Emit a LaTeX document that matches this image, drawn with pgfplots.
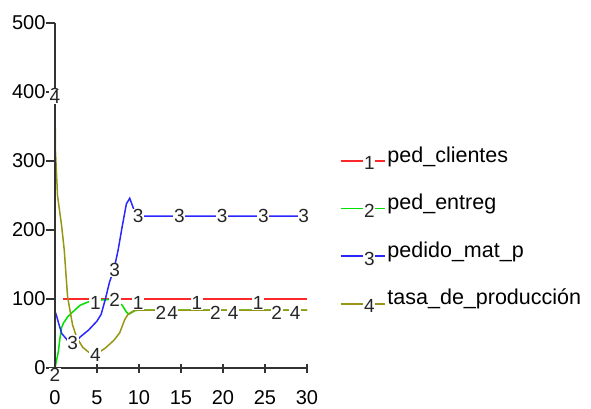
\documentclass[border=0pt]{standalone}
\usepackage{pgfplots}
\pgfplotsset{compat=1.18}
\usepackage{fontspec}
\setmainfont{Liberation Sans}
\definecolor{cred}{RGB}{255,40,40}
\definecolor{cgreen}{RGB}{0,225,0}
\definecolor{cblue}{RGB}{40,40,255}
\definecolor{colive}{RGB}{150,150,20}
\newcommand{\labfont}{\fontsize{19}{19}\selectfont}
\pgfplotsset{
  labstyle/.style={forget plot, only marks, mark=text, text mark={#1}, text mark as node=true,
    text mark style={font=\labfont, fill=white, inner sep=0.6pt, text=black!85}},
}
\begin{document}
\begin{tikzpicture}
\useasboundingbox (-55pt,-41pt) rectangle (536pt,368pt);
\begin{axis}[
  scale only axis, width=252pt, height=345pt,
  xmin=0, xmax=30, ymin=0, ymax=500,
  axis x line=bottom, axis y line=left, axis on top,
  axis line style={-, line width=1.6pt, black!80},
  xtick={0,5,...,30}, ytick={0,100,...,500},
  x tick style={line width=1.3pt, black!80}, y tick style={line width=1.3pt, black!80},
  xtick align=center, ytick align=outside,
  major tick length=9pt,
  tick label style={font=\fontsize{20}{20}\selectfont, /pgf/number format/assume math mode=true},
  xticklabel style={yshift=-15pt},
  yticklabel style={xshift=3pt},
  clip=false,
  legend style={draw=none, fill=none, at={(rel axis cs:1.13,0.648)}, anchor=north west,
    font=\fontsize{21.5}{21.5}\selectfont, row sep=20pt, inner sep=0pt},
  legend cell align=left,
]
% ped_clientes
\addplot[cred, line width=1.5pt, legend image code/.code={
    \draw[cred, line width=1.5pt] (0pt,-6pt) -- (44pt,-6pt);
    \node[fill=white, inner sep=0.6pt, font=\labfont, text=black!85] at (22pt,-9pt) {1};}]
 coordinates {(1,100)(5,100)(10,100)(15,100)(20,100)(25,100)(30,100)};
\addlegendentry{ped\_clientes}
% ped_entreg
\addplot[cgreen, line width=1.5pt, legend image code/.code={
    \draw[cgreen, line width=1.5pt] (0pt,-6pt) -- (44pt,-6pt);
    \node[fill=white, inner sep=0.6pt, font=\labfont, text=black!85] at (22pt,-9pt) {2};}]
 coordinates {(0,0)(0.2,12)(0.4,24)(0.6,44)(0.8,59)(1,65)(1.5,74)(2,80)(3,91)(4,96)(5,98)(6,99)(7,99)(8,91)(8.5,81)(8.8,78)(9.5,83)(10,84)(15,84)(20,84)(25,84)(30,84)};
\addlegendentry{ped\_entreg}
% pedido_mat_p
\addplot[cblue, line width=1.5pt, legend image code/.code={
    \draw[cblue, line width=1.5pt] (0pt,-6pt) -- (44pt,-6pt);
    \node[fill=white, inner sep=0.6pt, font=\labfont, text=black!85] at (22pt,-9pt) {3};}]
 coordinates {(0,395)(0,82)(0.2,75)(0.5,62)(0.8,50)(1.5,40)(2,37)(2.5,38)(3,45)(4,55)(5,68)(5.5,78)(6,100)(6.5,125)(7,142)(7.5,170)(8,205)(8.5,238)(8.9,246)(9.5,226)(10,220)(15,220)(20,220)(25,220)(30,220)};
\addlegendentry{pedido\_mat\_p}
% tasa_de_produccion
\addplot[colive, line width=1.5pt, legend image code/.code={
    \draw[colive, line width=1.5pt] (0pt,-6pt) -- (44pt,-6pt);
    \node[fill=white, inner sep=0.6pt, font=\labfont, text=black!85] at (22pt,-9pt) {4};}]
 coordinates {(0,393)(0.05,316)(0.3,250)(0.8,205)(1.1,171)(1.5,103)(2.1,62)(2.6,44)(3.3,30)(4,23)(4.8,19)(6,29)(7,40)(7.7,51)(8.3,70)(8.7,78)(9.5,84)(10,84)(15,84)(20,84)(25,84)(30,84)};
\addlegendentry{tasa\_de\_producción}
% labels
\addplot[labstyle=1, mark options={yshift=-4pt}] coordinates {(4.8,100)(9.9,100)(16.9,100)(24.2,100)};
\addplot[labstyle=2, mark options={yshift=-7pt}] coordinates {(0,0)};
\addplot[labstyle=2] coordinates {(7.1,99)};
\addplot[labstyle=2, mark options={yshift=-3pt}] coordinates {(12.6,84)(19.1,84)(26.4,84)};
\addplot[labstyle=3] coordinates {(0,395)(2.1,37)(7.1,142)(9.9,220)(14.8,220)(19.9,220)(24.8,220)(29.6,220)};
\addplot[labstyle=4] coordinates {(0,393)(4.8,19)};
\addplot[labstyle=4, mark options={yshift=-3pt}] coordinates {(14.0,84)(21.2,84)(28.6,84)};
\end{axis}
\end{tikzpicture}
\end{document}
